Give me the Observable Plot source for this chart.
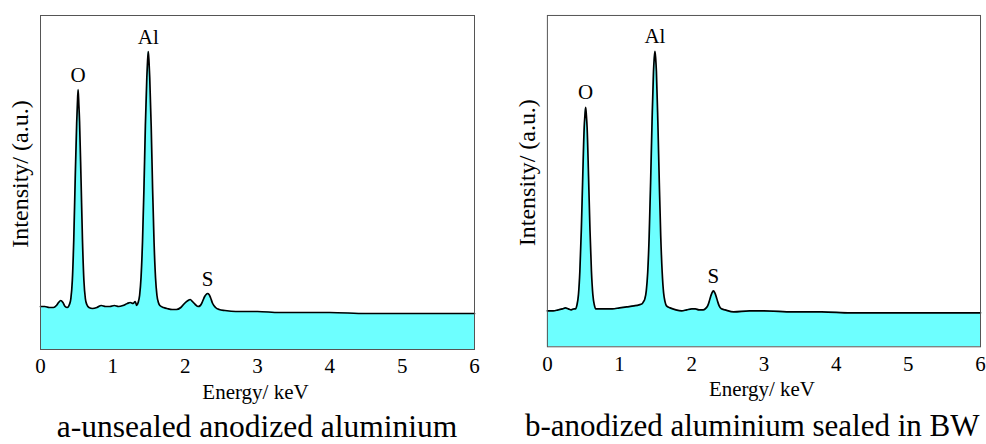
<!DOCTYPE html>
<html>
<head>
<meta charset="utf-8">
<script src="https://cdn.jsdelivr.net/npm/d3@7"></script>
<script src="https://cdn.jsdelivr.net/npm/@observablehq/plot@0.6"></script>
<style>
  html, body { margin: 0; padding: 0; background: #fff; }
  body { width: 986px; height: 444px; overflow: hidden; position: relative; font-family: "Liberation Serif", "Times New Roman", serif; }
  .panel { position: absolute; top: 0; width: 493px; }
  .panel svg { display: block; overflow: visible; }
  .caption { font-size: 31.5px; line-height: 29px; margin-top: 7px; white-space: nowrap; color: #000; }
</style>
</head>
<body>
<div class="panel" id="pa" style="left:0px"></div>
<div class="panel" id="pb" style="left:493px"></div>
<script>
// ---- data ----
const xTicks = [0, 1, 2, 3, 4, 5, 6];
const peakNames = ["O", "Al", "S"];
const captions = ["a-unsealed anodized aluminium", "b-anodized aluminium sealed in BW"];
const xLabel = "Energy/ keV";
const yLabel = "Intensity/ (a.u.)";

// panel a: unsealed
const energyA = [0.00,0.06,0.12,0.18,0.22,0.25,0.28,0.31,0.34,0.37,0.40,0.42,0.44,0.46,0.48,0.50,0.51,0.52,0.53,0.54,0.56,0.58,0.60,0.62,0.64,0.67,0.72,0.78,0.84,0.90,0.96,1.02,1.08,1.14,1.20,1.24,1.28,1.31,1.33,1.35,1.37,1.39,1.41,1.43,1.45,1.47,1.48,1.49,1.50,1.51,1.53,1.55,1.57,1.59,1.61,1.63,1.65,1.70,1.75,1.82,1.88,1.94,1.99,2.04,2.07,2.10,2.14,2.18,2.21,2.24,2.27,2.29,2.31,2.33,2.35,2.38,2.42,2.47,2.55,2.70,2.85,3.00,3.30,3.60,4.00,4.50,5.00,5.50,6.00];
const intensityA = [43,43,42,42,44,47,49,47,43,42,45,51,69,110,171,226,245,260,245,228,171,110,69,51,45,42,41,42,44,43,43,44,43,44,46,47,46,48,44,47,54,72,107,160,224,272,288,298,288,272,224,160,107,72,54,47,44,42,41,40,40,42,46,49,50,48,45,43,44,48,53,55,56,55,52,46,42,40,39,38,38,38,37,37,37,36,36,36,36];
const peakEnergyA = [0.52, 1.49, 2.31];
const peakIntensityA = [260, 298, 56];

// panel b: sealed
const energyB = [0.00,0.08,0.15,0.21,0.25,0.29,0.33,0.37,0.39,0.41,0.43,0.45,0.47,0.49,0.51,0.52,0.53,0.54,0.55,0.57,0.59,0.61,0.63,0.65,0.67,0.72,0.80,0.90,1.00,1.10,1.20,1.27,1.31,1.33,1.35,1.37,1.39,1.41,1.43,1.45,1.47,1.48,1.49,1.50,1.51,1.53,1.55,1.57,1.59,1.61,1.63,1.65,1.70,1.78,1.86,1.93,2.00,2.05,2.10,2.16,2.20,2.22,2.24,2.26,2.28,2.30,2.32,2.34,2.36,2.38,2.41,2.46,2.58,2.80,3.00,3.40,3.80,4.20,4.60,5.00,5.50,6.00];
const intensityB = [36,36,37,38,39,38,37,38,38,42,52,76,117,171,220,232,240,232,220,171,117,76,52,42,38,38,38,38,39,40,41,42,43,45,48,56,75,111,165,226,276,289,296,289,276,226,165,111,75,54,45,41,39,37,36,37,38,38,37,37,39,41,45,50,54,56,54,50,45,41,38,37,35,36,36,35,35,34,34,34,34,34];
const peakEnergyB = [0.53, 1.49, 2.30];
const peakIntensityB = [240, 296, 56];

const fontFamily = "'Liberation Serif', 'Times New Roman', serif";

function panel(energy, intensity, ymax, peakE, peakI, marginLeft, marginRight) {
  const data = energy.map((e, i) => ({e, v: intensity[i]}));
  const peaks = peakNames.map((n, i) => ({n, e: peakE[i], v: peakI[i]}));
  const plotBottom = 15 + ymax;
  return Plot.plot({
    width: marginLeft + 434 + marginRight,
    height: 405,
    marginTop: 15,
    marginBottom: 405 - plotBottom,
    marginLeft,
    marginRight,
    style: {fontFamily, fontSize: "21px", background: "white", color: "black", overflow: "visible"},
    x: {domain: [0, 6], ticks: xTicks, tickSize: 0, tickPadding: 9, label: null, tickFormat: d => String(d)},
    y: {domain: [0, ymax], axis: null},
    marks: [
      Plot.areaY(data, {x: "e", y: "v", fill: "#6dffff", curve: "monotone-x"}),
      Plot.lineY(data, {x: "e", y: "v", stroke: "black", strokeWidth: 1.7, curve: "monotone-x"}),
      Plot.frame({stroke: "#555"}),
      Plot.text(peaks, {x: "e", y: "v", text: "n", dy: -8, lineAnchor: "bottom", fontSize: 21}),
      Plot.text([xLabel], {frameAnchor: "bottom", textAnchor: "middle", dx: -2, dy: 49, lineAnchor: "bottom", fontSize: 21}),
      Plot.text([yLabel], {frameAnchor: "left", textAnchor: "middle", lineAnchor: "middle", rotate: -90, dx: -20, dy: -8.5, fontSize: 24})
    ]
  });
}

function build(id, chart, caption, capStyle) {
  const el = document.getElementById(id);
  el.appendChild(chart);
  const c = document.createElement("div");
  c.className = "caption";
  Object.assign(c.style, capStyle);
  c.textContent = caption;
  el.appendChild(c);
}

build("pa", panel(energyA, intensityA, 334, peakEnergyA, peakIntensityA, 40, 19), captions[0],
  {textAlign: "center", paddingLeft: "40px", paddingRight: "19px"});
build("pb", panel(energyB, intensityB, 332, peakEnergyB, peakIntensityB, 54, 6), captions[1],
  {textAlign: "left", paddingLeft: "32px", fontSize: "31px"});
</script>
</body>
</html>
